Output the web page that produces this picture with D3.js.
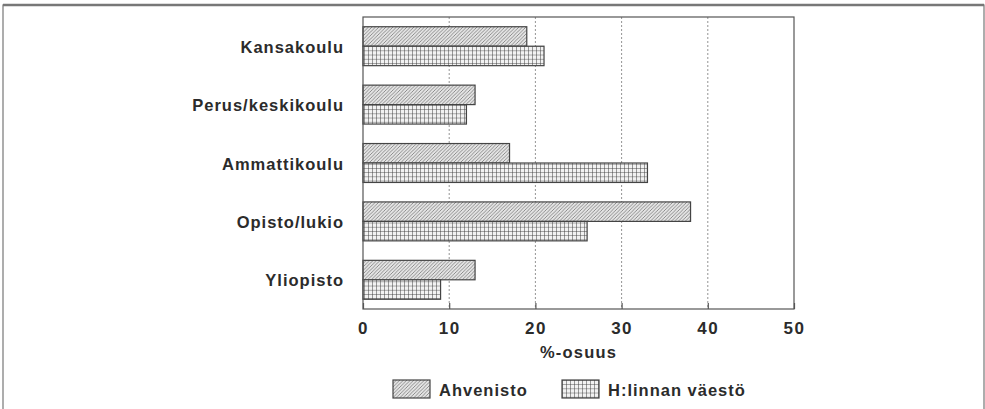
<!DOCTYPE html>
<html>
<head>
<meta charset="utf-8">
<script src="https://cdn.jsdelivr.net/npm/d3@7"></script>
<style>
  html, body { margin: 0; padding: 0; background: #fff; }
  svg { display: block; }
  text { font-family: "Liberation Sans", Arial, sans-serif; font-weight: bold; fill: #2b2b2b; }
</style>
</head>
<body>
<svg id="chart" width="985" height="409"></svg>
<script>
const categories = ["Kansakoulu", "Perus/keskikoulu", "Ammattikoulu", "Opisto/lukio", "Yliopisto"];
const seriesNames = ["Ahvenisto", "H:linnan väestö"];
const ahvenisto = [19, 13, 17, 38, 13];
const hlinna = [21, 12, 33, 26, 9];
const tickValues = [0, 10, 20, 30, 40, 50];
const axisTitle = "%-osuus";

const values = [ahvenisto, hlinna];
const rows = categories.map((c, i) => ({ cat: c, vals: seriesNames.map((s, j) => ({ s, v: values[j][i] })) }));

const svg = d3.select("#chart");
const plot = { left: 363, right: 794, top: 17, bottom: 309 };

// patterns
const defs = svg.append("defs");
const p1 = defs.append("pattern").attr("id", "hatch").attr("patternUnits", "userSpaceOnUse")
  .attr("width", 3.5).attr("height", 3.5);
p1.append("rect").attr("width", 3.5).attr("height", 3.5).attr("fill", "#e4e4e4");
p1.append("path").attr("d", "M-1,1 l2,-2 M0,3.5 l3.5,-3.5 M2.5,4.5 l2,-2")
  .attr("stroke", "#777").attr("stroke-width", 0.8);
const p2 = defs.append("pattern").attr("id", "grid").attr("patternUnits", "userSpaceOnUse")
  .attr("width", 4).attr("height", 4.2);
p2.append("rect").attr("width", 4).attr("height", 4.2).attr("fill", "#f2f2f2");
p2.append("path").attr("d", "M0,0 H4 M0,0 V4.2").attr("stroke", "#3c3c3c").attr("stroke-width", 1);
const fills = { "Ahvenisto": "url(#hatch)", "H:linnan väestö": "url(#grid)" };

// outer border
svg.append("rect").attr("x", 3).attr("y", 5).attr("width", 981).attr("height", 410)
  .attr("fill", "none").attr("stroke", "#777").attr("stroke-width", 1.2);
svg.append("line").attr("x1", 3).attr("x2", 984).attr("y1", 5).attr("y2", 5)
  .attr("stroke", "#777").attr("stroke-width", 2.5);

const x = d3.scaleLinear().domain([0, 50]).range([plot.left, plot.right]);
const y = d3.scaleBand().domain(categories).range([plot.top, plot.bottom]).padding(0);
const ys = d3.scaleBand().domain(seriesNames).range([0, y.bandwidth()]).paddingInner(0).paddingOuter(0.5);

// grid lines
svg.append("g").selectAll("line").data(tickValues.filter(t => t > 0 && t < 50)).join("line")
  .attr("x1", d => x(d)).attr("x2", d => x(d)).attr("y1", plot.top).attr("y2", plot.bottom)
  .attr("stroke", "#888").attr("stroke-width", 0.9).attr("stroke-dasharray", "2,2");

// bars
const g = svg.append("g");
rows.forEach(r => {
  g.selectAll(null).data(r.vals).join("rect")
    .attr("x", x(0)).attr("y", d => y(r.cat) + ys(d.s))
    .attr("width", d => x(d.v) - x(0)).attr("height", ys.bandwidth())
    .attr("fill", d => fills[d.s]).attr("stroke", "#444").attr("stroke-width", 1.2);
});

// frame
svg.append("rect").attr("x", plot.left).attr("y", plot.top)
  .attr("width", plot.right - plot.left).attr("height", plot.bottom - plot.top)
  .attr("fill", "none").attr("stroke", "#555").attr("stroke-width", 1.2);

// x axis
const ax = svg.append("g").attr("transform", `translate(0,${plot.bottom})`)
  .call(d3.axisBottom(x).tickValues(tickValues).tickSizeInner(-6).tickSizeOuter(0).tickPadding(13));
ax.select(".domain").remove();
ax.selectAll(".tick line").attr("stroke", "#555").attr("stroke-width", 1.2);
ax.selectAll(".tick text").attr("font-size", 17).attr("letter-spacing", 1.5)
  .attr("font-family", "'Liberation Sans', Arial, sans-serif").attr("font-weight", "bold").attr("fill", "#2b2b2b");

svg.append("text").attr("x", x(25)).attr("y", 358).attr("text-anchor", "middle")
  .attr("font-size", 16.5).attr("letter-spacing", 1.2).text(axisTitle);

// category labels
svg.append("g").selectAll("text").data(categories).join("text")
  .attr("x", 344).attr("y", d => y(d) + y.bandwidth() / 2 + 6.5)
  .attr("text-anchor", "end").attr("font-size", 16.5).attr("letter-spacing", 1)
  .text(d => d);

// legend
const legX = [393, 562];
const lg = svg.append("g").selectAll("g").data(seriesNames).join("g")
  .attr("transform", (d, i) => `translate(${legX[i]},380)`);
lg.append("rect").attr("width", 37).attr("height", 18).attr("fill", d => fills[d])
  .attr("stroke", "#444").attr("stroke-width", 1.2);
lg.append("text").attr("x", 46).attr("y", 16).attr("font-size", 16.5).attr("letter-spacing", 1)
  .text(d => d);
</script>
</body>
</html>
